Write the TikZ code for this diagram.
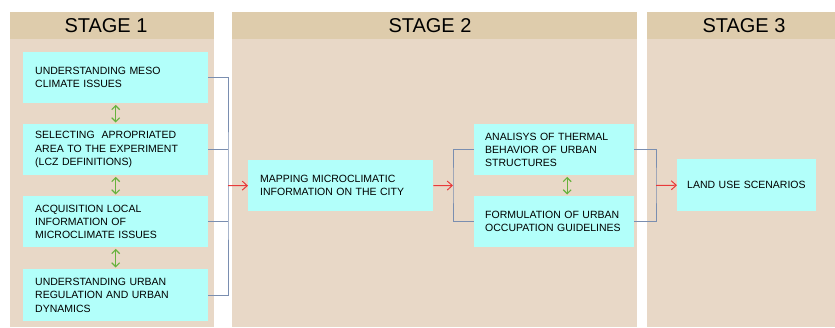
\documentclass[tikz,border=0pt]{standalone}
\usepackage{fontspec}
\setmainfont{Liberation Sans}
\usetikzlibrary{arrows.meta,positioning}
\definecolor{panelbody}{RGB}{232,216,199}
\definecolor{panelhead}{RGB}{222,204,172}
\definecolor{boxcyan}{RGB}{178,255,250}
\definecolor{linkgreen}{RGB}{102,178,60}
\definecolor{flowred}{RGB}{232,58,58}
\definecolor{bracketblue}{RGB}{122,142,176}

\begin{document}
\begin{tikzpicture}[x=1pt, y=-1pt,
    stagebox/.style={fill=boxcyan, anchor=north west, align=left, inner xsep=12pt,
      minimum height=51pt, font=\fontsize{10.5}{13.3}\selectfont},
    title/.style={font=\fontsize{20}{24}\selectfont},
    bracket/.style={draw=bracketblue, line width=0.9pt},
    flow/.style={draw=flowred, line width=1pt, -{Straight Barb[length=5pt,width=9pt]}},
    swap/.style={draw=linkgreen, line width=1.1pt,
      {Straight Barb[length=4pt,width=8pt]}-{Straight Barb[length=4pt,width=8pt]},
      shorten >=1.5pt, shorten <=1.5pt}]
    \fill[white] (0,0) rectangle (835,327);
    \useasboundingbox (0,0) rectangle (835,327);
    % stage panels
    \fill[panelbody] (10,12) rectangle (214,327);
    \fill[panelhead] (10,12) rectangle (214,39);
    \fill[panelbody] (232,12) rectangle (637,327);
    \fill[panelhead] (232,12) rectangle (637,39);
    \fill[panelbody] (647,12) rectangle (835,327);
    \fill[panelhead] (647,12) rectangle (835,39);
    \node[title] (s1) at (106,25.5) {STAGE 1};
    \node[title] (s2) at (430,25.5) {STAGE 2};
    \node[title] (s3) at (744,25.5) {STAGE 3};
    % stage 1
    \node[stagebox, text width=161pt] (meso) at (23,52) {UNDERSTANDING MESO\\CLIMATE ISSUES};
    \node[stagebox, text width=161pt] (area) at (23,124) {SELECTING~ APROPRIATED\\AREA TO THE EXPERIMENT\\(LCZ DEFINITIONS)};
    \node[stagebox, text width=161pt] (local) at (23,196) {ACQUISITION LOCAL\\INFORMATION OF\\MICROCLIMATE ISSUES};
    \node[stagebox, text width=161pt, minimum height=52pt] (regul) at (23,269) {UNDERSTANDING URBAN\\REGULATION AND URBAN\\DYNAMICS};
    \draw[swap] (meso.south) -- (area.north);
    \draw[swap] (area.south) -- (local.north);
    \draw[swap] (local.south) -- (regul.north);
    % stage 2
    \node[stagebox, text width=161pt] (map) at (248,160) {MAPPING MICROCLIMATIC\\INFORMATION ON THE CITY};
    \node[stagebox, text width=138pt, inner xsep=11pt] (thermal) at (474,124) {ANALISYS OF THERMAL\\BEHAVIOR OF URBAN\\STRUCTURES};
    \node[stagebox, text width=138pt, inner xsep=11pt] (guide) at (474,196) {FORMULATION OF URBAN\\OCCUPATION GUIDELINES};
    \draw[swap] ([xshift=13pt]thermal.south) -- ([xshift=13pt]guide.north);
    % stage 3
    \node[stagebox, text width=119pt, inner xsep=10pt, minimum height=52pt] (land) at (677,159) {LAND USE SCENARIOS};
    % brackets and flow arrows
    \coordinate (j1) at (228,185.5);
    \draw[bracket] (meso.east) -| (j1) |- (regul.east);
    \draw[bracket] (area.east) -- (area.east -| j1);
    \draw[bracket] (local.east) -- (local.east -| j1);
    \draw[flow] (j1) -- (map.west);
    \coordinate (j2) at (453,185.5);
    \draw[flow] (map.east) -- (j2);
    \draw[bracket] (thermal.west) -| (j2) |- (guide.west);
    \coordinate (j3) at (656,185.5);
    \draw[bracket] (thermal.east) -| (j3) |- (guide.east);
    \draw[flow] (j3) -- (land.west);
\end{tikzpicture}
\end{document}
